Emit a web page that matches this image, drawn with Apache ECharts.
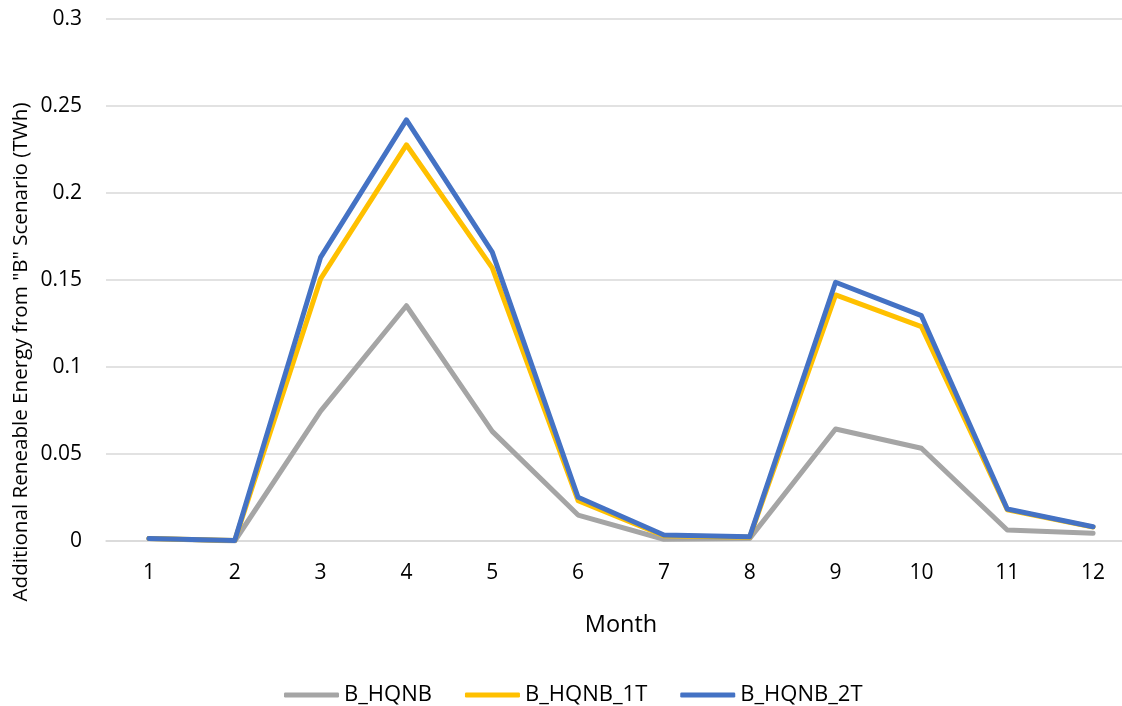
<!DOCTYPE html>
<html>
<head>
<meta charset="utf-8">
<script src="https://cdn.jsdelivr.net/npm/echarts@6/dist/echarts.min.js"></script>
<style>
  html, body { margin: 0; padding: 0; background: #fff; }
  #chart { width: 1122px; height: 706px; }
</style>
</head>
<body>
<div id="chart"></div>
<script>
// Monthly additional renewable energy (TWh) relative to the "B" scenario
const months = ['1', '2', '3', '4', '5', '6', '7', '8', '9', '10', '11', '12'];
const bHqnb   = [0.0015, 0.0000, 0.0746, 0.1352, 0.0630, 0.0149, 0.0010, 0.0015, 0.0644, 0.0533, 0.0063, 0.0044];
const bHqnb1T = [0.0015, 0.0003, 0.1506, 0.2277, 0.1570, 0.0232, 0.0030, 0.0022, 0.1414, 0.1232, 0.0180, 0.0080];
const bHqnb2T = [0.0015, 0.0003, 0.1630, 0.2420, 0.1660, 0.0251, 0.0034, 0.0025, 0.1487, 0.1295, 0.0184, 0.0082];
const yTicks = { min: 0, max: 0.3, interval: 0.05 };
const yTitle = 'Additional Reneable Energy from "B" Scenario (TWh)';
const xTitle = 'Month';

const FONT = 'Open Sans';
const chart = echarts.init(document.getElementById('chart'), null, { renderer: 'canvas' });

function lineSeries(name, data, color) {
  return {
    name: name,
    type: 'line',
    data: data,
    symbol: 'none',
    smooth: false,
    lineStyle: { color: color, width: 5, cap: 'round', join: 'round' },
    itemStyle: { color: color },
    emphasis: { disabled: true }
  };
}

chart.setOption({
  animation: false,
  backgroundColor: '#ffffff',
  textStyle: { fontFamily: FONT },
  grid: { left: 106, right: -14, top: 19, bottom: 165, containLabel: false, outerBoundsMode: 'none' },
  legend: {
    left: 279,
    top: 679,
    itemWidth: 55,
    itemHeight: 5,
    itemGap: 33,
    icon: 'roundRect',
    textStyle: { fontFamily: FONT, fontSize: 22, color: '#000' },
    data: ['B_HQNB', 'B_HQNB_1T', 'B_HQNB_2T']
  },
  // Vertical axis title, centred on the full chart height
  graphic: [{
    type: 'text',
    x: 21.5,
    y: 352,
    rotation: Math.PI / 2,
    style: {
      text: yTitle,
      fontFamily: FONT,
      fontSize: 20.6,
      fill: '#000',
      textAlign: 'center',
      textVerticalAlign: 'middle'
    }
  }],
  xAxis: {
    type: 'category',
    data: months,
    boundaryGap: true,
    name: xTitle,
    nameLocation: 'middle',
    nameGap: 72,
    nameTextStyle: { fontFamily: FONT, fontSize: 23.5, color: '#000' },
    axisLine: { show: true, lineStyle: { color: '#D9D9D9', width: 1.5 } },
    axisTick: { show: false },
    axisLabel: { fontFamily: FONT, fontSize: 21, color: '#000', margin: 22 }
  },
  yAxis: {
    type: 'value',
    min: yTicks.min,
    max: yTicks.max,
    interval: yTicks.interval,
    axisLine: { show: false },
    axisTick: { show: false },
    splitLine: { show: true, lineStyle: { color: '#D9D9D9', width: 1.5 } },
    axisLabel: { fontFamily: FONT, fontSize: 21, color: '#000', margin: 24 }
  },
  series: [
    lineSeries('B_HQNB', bHqnb, '#A5A5A5'),
    lineSeries('B_HQNB_1T', bHqnb1T, '#FFC000'),
    lineSeries('B_HQNB_2T', bHqnb2T, '#4472C4')
  ]
});
</script>
</body>
</html>
